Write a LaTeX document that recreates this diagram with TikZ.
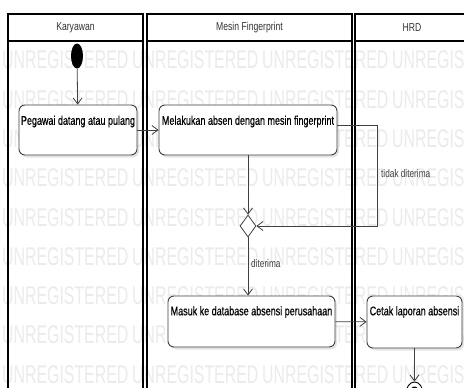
\documentclass[tikz,border=0pt]{standalone}
\usepackage{fontspec}
\setmainfont{Liberation Sans}[FakeStretch=0.75]
\newfontfamily\wmfont{Liberation Sans}[FakeStretch=0.62]
\newfontfamily\actfont{Liberation Sans}[FakeStretch=0.72, FakeBold=0.5]
\usetikzlibrary{arrows.meta,shapes.geometric,shadows,calc}

\definecolor{edgegray}{HTML}{404040}
\definecolor{wmgray}{HTML}{EBEBEB}

\tikzset{
  lane/.style={draw=black, line width=1.1pt},
  headline/.style={draw=black, line width=1.6pt},
  lanetitle/.style={font=\fontsize{11.5}{12}\selectfont, text=black!80},
  actbox/.style={draw=edgegray, line width=0.9pt, rounded corners=6pt, fill=white,
    inner sep=0pt,
    drop shadow={shadow xshift=2pt, shadow yshift=-2.5pt, opacity=0.2}},
  acttext/.style={font=\actfont\fontsize{12.5}{13}\selectfont, text=black},
  flow/.style={draw=edgegray, line width=0.8pt, -{Straight Barb[length=6pt,width=9pt,line width=0.8pt]}},
  flowlabel/.style={font=\fontsize{11}{12}\selectfont, text=black!75, anchor=west, inner sep=0pt},
  watermark/.style={font=\wmfont\fontsize{25.6}{26}\selectfont, text=wmgray, anchor=west, inner sep=0pt},
  startnode/.style={ellipse, fill=black, minimum width=12pt, minimum height=25pt, inner sep=0pt},
  decision/.style={diamond, draw=edgegray, line width=0.8pt, fill=white, minimum width=16pt, minimum height=22pt, inner sep=0pt},
}

\begin{document}
\begin{tikzpicture}[x=1pt, y=-1pt]
  \clip (0,0) rectangle (464,388);
  \fill[white] (0,0) rectangle (464,388);

  % faint evaluation watermark behind everything
  \foreach \r in {0,...,8}
    \foreach \c in {0,...,3}
      \node[watermark] at (2+130*\c, 60+39.3*\r) {UNREGISTERED};

  % swimlanes
  \draw[lane] (8,14) rectangle (143,400);
  \draw[lane] (147,14) rectangle (352,400);
  \draw[lane] (355,14) rectangle (469,400);
  \draw[headline] (8,41) -- (143,41);
  \draw[headline] (147,41) -- (352,41);
  \draw[headline] (355,41) -- (469,41);
  \node[lanetitle] (t1) at (75.5,28) {Karyawan};
  \node[lanetitle] (t2) at (249.5,28) {Mesin Fingerprint};
  \node[lanetitle] (t3) at (412,28) {HRD};

  % activity nodes
  \node[startnode] (start) at (77,56) {};
  \node[actbox, minimum width=118pt, minimum height=50pt,
        label={[acttext, anchor=center, yshift=-17pt]north:Pegawai datang atau pulang}]
        (act1) at (78,130) {};
  \node[actbox, minimum width=178pt, minimum height=50pt,
        label={[acttext, anchor=center, yshift=-17pt]north:Melakukan absen dengan mesin fingerprint}]
        (act2) at (248,130) {};
  \node[decision] (dec) at (248,226) {};
  \node[actbox, minimum width=167pt, minimum height=51pt,
        label={[acttext, anchor=center, yshift=-16.5pt]north:Masuk ke database absensi perusahaan}]
        (act3) at (251.5,321.5) {};
  \node[actbox, minimum width=95pt, minimum height=52pt,
        label={[acttext, anchor=center, yshift=-16.5pt]north:Cetak laporan absensi}]
        (act4) at (414.5,322) {};
  \node[ellipse, draw=black, line width=0.9pt, fill=white, minimum width=17pt, minimum height=23pt, inner sep=0pt] (fin) at (414.5,393.5) {};
  \node[ellipse, fill=black, minimum width=10pt, minimum height=14pt, inner sep=0pt] (fincore) at (fin.center) {};

  % control flows
  \coordinate (loop) at (377,0);
  \draw[flow] (start) -- (act1);
  \draw[flow] (act1) -- (act2);
  \draw[flow] (act2) -- (dec);
  \draw[flow] ($(act2.east)+(0,-5)$) -| (loop |- dec.east) -- (dec.east);
  \node[flowlabel] (lno) at (381,174) {tidak diterima};
  \draw[flow] (dec.south) -- (dec.south |- act3.north);
  \node[flowlabel] (lyes) at (251,264) {diterima};
  \draw[flow] (act3) -- (act4);
  \draw[flow] (act4) -- (fin);
\end{tikzpicture}
\end{document}
